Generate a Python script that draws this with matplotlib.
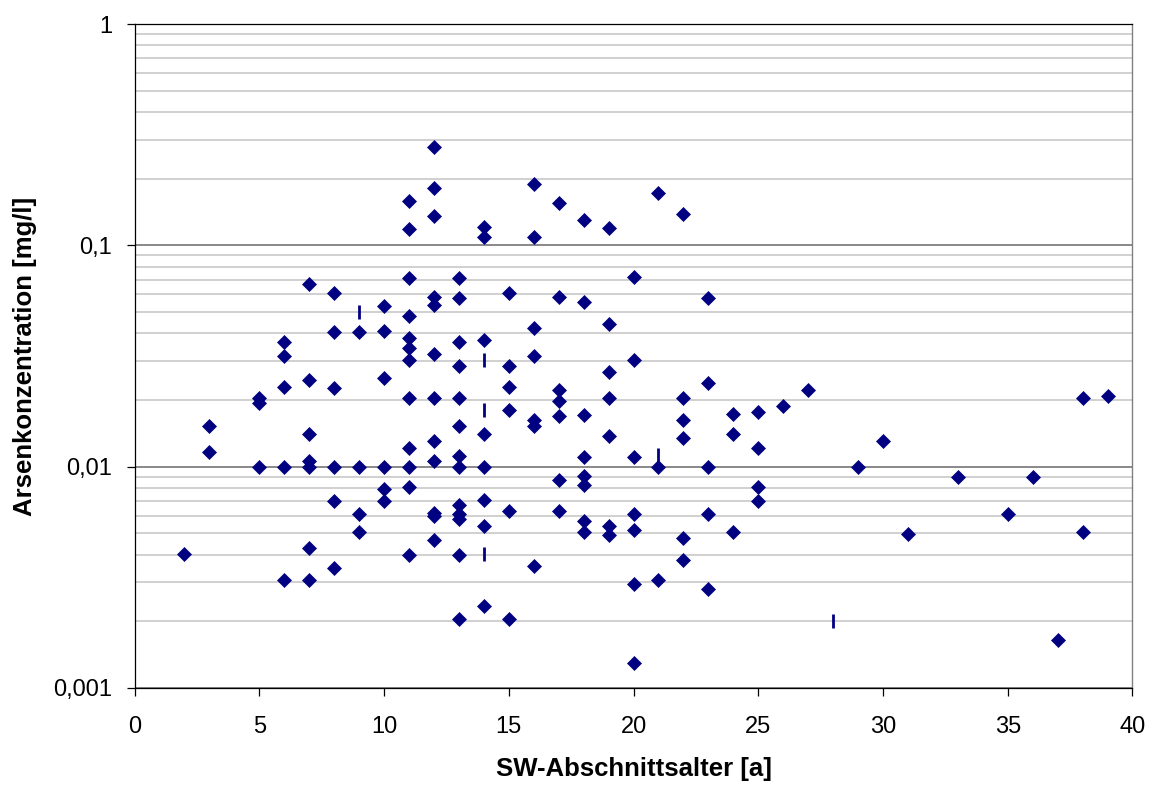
import matplotlib.pyplot as plt
from matplotlib.ticker import FixedLocator, FuncFormatter, LogLocator, NullFormatter

plt.rcParams['font.family'] = ['Liberation Sans', 'DejaVu Sans']

# Abschnittsalter [a] und gemessene Arsenkonzentration [mg/l]
alter = (
    [2]
    + [3] * 2
    + [5] * 3
    + [6] * 5
    + [7] * 7
    + [8] * 6
    + [9] * 4
    + [10] * 6
    + [11] * 12
    + [12] * 12
    + [13] * 13
    + [14] * 8
    + [15] * 6
    + [16] * 7
    + [17] * 7
    + [18] * 8
    + [19] * 7
    + [20] * 7
    + [21] * 3
    + [22] * 6
    + [23] * 5
    + [24] * 3
    + [25] * 4
    + [26, 27, 29, 30, 31, 33, 35, 36, 37, 38, 38, 39]
)
arsen = [
    0.00403,
    0.0152, 0.0116,
    0.0204, 0.0194, 0.01,
    0.0365, 0.0315, 0.0230, 0.01, 0.00306,
    0.067, 0.0247, 0.0140, 0.0106, 0.01, 0.0043, 0.00306,
    0.0612, 0.0404, 0.0227, 0.01, 0.0070, 0.00349,
    0.0404, 0.01, 0.0061, 0.00505,
    0.053, 0.0412, 0.0251, 0.01, 0.0079, 0.0070,
    0.159, 0.119, 0.0711, 0.0477, 0.0381, 0.0343, 0.0302, 0.0204, 0.0121, 0.01, 0.0081, 0.0040,
    0.279, 0.181, 0.135, 0.0587, 0.0539, 0.0323, 0.0204, 0.0131, 0.0106, 0.0062, 0.0060, 0.00466,
    0.0711, 0.0577, 0.0365, 0.0284, 0.0204, 0.0153, 0.0112, 0.01, 0.0067, 0.0061, 0.0058, 0.0040, 0.00204,
    0.121, 0.1096, 0.0372, 0.0141, 0.01, 0.0071, 0.00542, 0.00234,
    0.0612, 0.0284, 0.0230, 0.0180, 0.0063, 0.00204,
    0.189, 0.1096, 0.0421, 0.0315, 0.0163, 0.0152, 0.00357,
    0.156, 0.0587, 0.0223, 0.0197, 0.0170, 0.00867, 0.0063,
    0.130, 0.0552, 0.0172, 0.0111, 0.0091, 0.0083, 0.00566, 0.00505,
    0.120, 0.0441, 0.0268, 0.0204, 0.0138, 0.00542, 0.00493,
    0.0723, 0.0302, 0.0111, 0.0061, 0.0052, 0.00296, 0.00129,
    0.173, 0.01, 0.00307,
    0.138, 0.0204, 0.0162, 0.0135, 0.00477, 0.0038,
    0.0577, 0.0240, 0.01, 0.0061, 0.00281,
    0.0173, 0.0141, 0.00505,
    0.0176, 0.0121, 0.0081, 0.0070,
    0.0188, 0.0221, 0.01, 0.0131, 0.00497, 0.0090, 0.0061, 0.0090, 0.00164, 0.0204, 0.00505, 0.0208,
]

# zweite Messreihe, als senkrechter Strich
alter_strich = [9, 14, 14, 14, 21, 28]
arsen_strich = [0.05, 0.0304, 0.0181, 0.00405, 0.0113, 0.002]

y_ticks = [0.001, 0.01, 0.1, 1]
x_ticks = list(range(0, 41, 5))

navy = '#000080'

fig = plt.figure(figsize=(11.53, 7.85), dpi=100)
ax = fig.add_axes([0.1167, 0.1236, 0.8655, 0.8458])

ax.plot(alter, arsen, linestyle='none', marker='D', markersize=7.0,
        color=navy, markeredgecolor=navy, markeredgewidth=0.5, zorder=3)
ax.plot(alter_strich, arsen_strich, linestyle='none', marker='|', markersize=10,
        markeredgewidth=2.0, color=navy, zorder=3)

ax.set_yscale('log')
ax.set_ylim(0.001, 1)
ax.set_xlim(0, 40)

ax.yaxis.set_major_locator(FixedLocator(y_ticks))
ax.yaxis.set_major_formatter(FuncFormatter(lambda v, p: ('%g' % v).replace('.', ',')))
ax.yaxis.set_minor_locator(LogLocator(base=10, subs=range(2, 10)))
ax.yaxis.set_minor_formatter(NullFormatter())
ax.tick_params(axis='y', which='minor', length=0)
ax.set_xticks(x_ticks)

ax.grid(True, axis='y', which='minor', color='#c8c8c8', linewidth=1.2)
ax.grid(True, axis='y', which='major', color='#808080', linewidth=1.3)
ax.set_axisbelow(True)

ax.tick_params(axis='both', which='major', direction='out', length=6, width=0.9,
               labelsize=17, color='black')
ax.tick_params(axis='y', which='major', pad=10)
ax.tick_params(axis='x', which='major', pad=14)

for side in ('left', 'bottom', 'top'):
    ax.spines[side].set_color('black')
    ax.spines[side].set_linewidth(0.9)
ax.spines['right'].set_color('#808080')
ax.spines['right'].set_linewidth(1.0)

ax.set_xlabel('SW-Abschnittsalter [a]', fontsize=18.5, fontweight='bold', labelpad=14)
ax.set_ylabel('Arsenkonzentration [mg/l]', fontsize=18.5, fontweight='bold', labelpad=12)

fig.savefig('out.png', dpi=100)
